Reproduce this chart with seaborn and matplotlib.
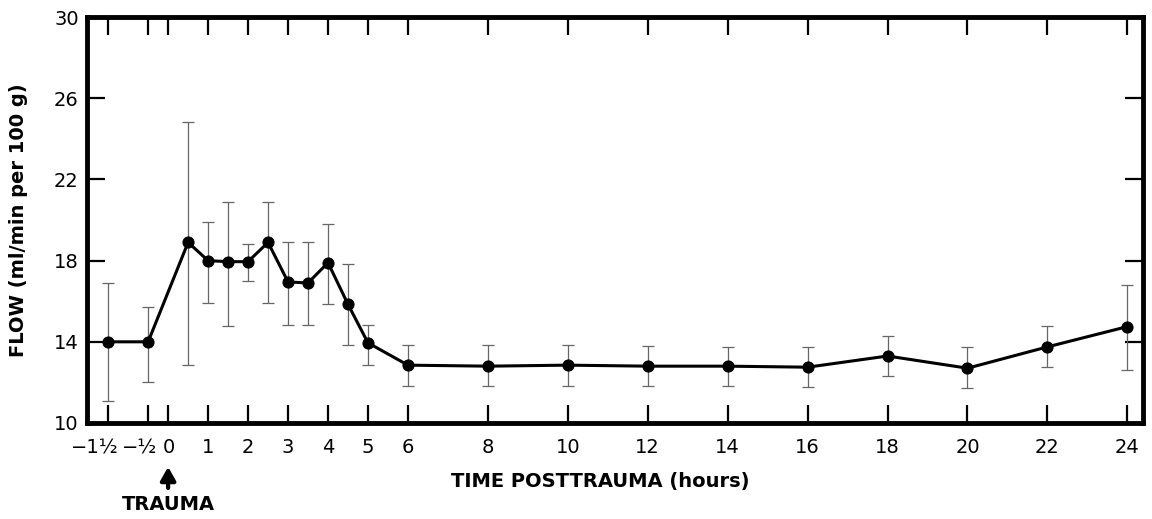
import seaborn as sns
import matplotlib.pyplot as plt
import matplotlib.transforms as mtransforms
import pandas as pd

# hours relative to trauma
hours = [-1.5, -0.5, 0.5, 1, 1.5, 2, 2.5, 3, 3.5, 4, 4.5, 5,
         6, 8, 10, 12, 14, 16, 18, 20, 22, 24]
flow = [14.0, 14.0, 18.9, 18.0, 17.95, 17.95, 18.9, 16.95, 16.9, 17.9, 15.85, 13.95,
        12.85, 12.8, 12.85, 12.8, 12.8, 12.75, 13.3, 12.7, 13.75, 14.75]
err_hi = [16.9, 15.7, 24.85, 19.9, 20.9, 18.8, 20.9, 18.9, 18.9, 19.8, 17.85, 14.85,
          13.85, 13.85, 13.85, 13.8, 13.75, 13.75, 14.3, 13.75, 14.8, 16.8]
err_lo = [11.1, 12.0, 12.85, 15.9, 14.8, 17.0, 15.9, 14.85, 14.85, 15.85, 13.85, 12.85,
          11.8, 11.8, 11.8, 11.8, 11.8, 11.75, 12.3, 11.7, 12.75, 12.6]

xticks = [-1.5, -0.5, 0, 1, 2, 3, 4, 5, 6, 8, 10, 12, 14, 16, 18, 20, 22, 24]
xlabels = ['\u22121\u00bd', '\u2212\u00bd', '0', '1', '2', '3', '4', '5', '6',
           '8', '10', '12', '14', '16', '18', '20', '22', '24']
yticks = [10, 14, 18, 22, 26, 30]

df = pd.DataFrame({'hours': hours, 'flow': flow, 'lo': err_lo, 'hi': err_hi})

sns.set_style('ticks')
plt.rcParams['font.family'] = ['DejaVu Sans']
plt.rcParams['text.color'] = 'black'
plt.rcParams['axes.labelcolor'] = 'black'
plt.rcParams['xtick.labelcolor'] = 'black'
plt.rcParams['ytick.labelcolor'] = 'black'

fig = plt.figure(figsize=(11.52, 5.19), dpi=100)
ax = fig.add_axes([0.0755, 0.185, 0.917, 0.782])

ax.errorbar(df['hours'], df['flow'],
            yerr=[df['flow'] - df['lo'], df['hi'] - df['flow']],
            fmt='none', ecolor='#666666', elinewidth=0.9, capsize=4, capthick=0.9, zorder=1)
sns.lineplot(data=df, x='hours', y='flow', ax=ax, color='black', linewidth=2.2,
             marker='o', markersize=8, markeredgecolor='black', zorder=3)

ax.set_xlim(-2.03, 24.4)
ax.set_ylim(10, 30)
ax.set_xticks(xticks)
ax.set_xticklabels(xlabels)
ax.set_yticks(yticks)
ax.tick_params(axis='both', direction='in', length=13, width=1.6, color='black',
               top=True, right=True, labelsize=14)
ax.tick_params(axis='x', pad=11)
ax.tick_params(axis='y', pad=6, labelright=False)
for s in ax.spines.values():
    s.set_linewidth(3.5)
    s.set_color('black')

# pull the crowded labels left of their ticks, as in the original
for lab, dx in zip(ax.get_xticklabels()[:3], [-13, -8, 1]):
    lab.set_transform(lab.get_transform() +
                      mtransforms.ScaledTranslation(dx / 100, 0, fig.dpi_scale_trans))

ax.set_xlabel('TIME POSTTRAUMA (hours)', fontsize=14, fontweight='semibold')
ax.xaxis.set_label_coords(0.486, -0.145)
ax.xaxis.label.set_va('center')
ax.set_ylabel('FLOW (ml/min per 100 g)', fontsize=14, fontweight='bold')
ax.yaxis.set_label_coords(-0.065, 0.5)
ax.yaxis.label.set_va('center')

ax.annotate('', xy=(0, -0.108), xycoords=('data', 'axes fraction'),
            xytext=(0, -0.16), textcoords=('data', 'axes fraction'),
            arrowprops=dict(arrowstyle='-|>,head_width=0.45,head_length=0.8',
                            color='black', lw=3, shrinkA=0, shrinkB=0))
ax.text(0, -0.2, 'TRAUMA', transform=ax.get_xaxis_transform(), ha='center', va='center',
        fontsize=14, fontweight='bold')

fig.savefig('out.png', dpi=100)
